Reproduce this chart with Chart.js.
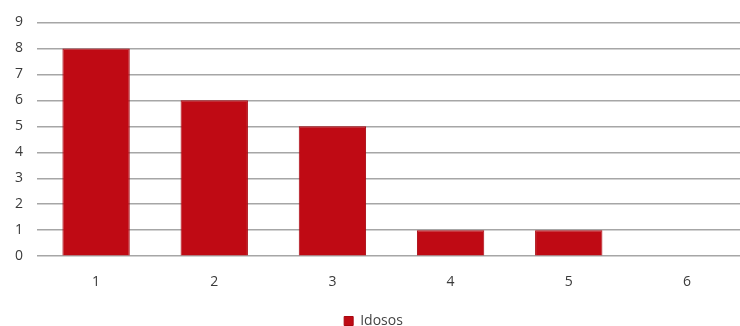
<!DOCTYPE html>
<html>
<head>
<meta charset="utf-8">
<script src="https://cdn.jsdelivr.net/npm/chart.js@4/dist/chart.umd.min.js"></script>
<style>
  html, body { margin: 0; padding: 0; background: #fff; overflow: hidden; }
  .wrap { width: 746px; height: 326px; overflow: hidden; }
</style>
</head>
<body>
<div class="wrap"><canvas id="myChart" width="746" height="338"></canvas></div>
<script>
let categories = ['1', '2', '3', '4', '5', '6'];
let idosos = [8, 6, 5, 1, 1, 0];
let yTicks = [0, 1, 2, 3, 4, 5, 6, 7, 8, 9];

let ctx = document.getElementById('myChart').getContext('2d');

new Chart(ctx, {
  type: 'bar',
  data: {
    labels: categories,
    datasets: [{
      label: 'Idosos',
      data: idosos,
      backgroundColor: '#bf0a14',
      borderColor: '#a8060f',
      borderWidth: 1,
      categoryPercentage: 1,
      barPercentage: 0.57
    }]
  },
  options: {
    responsive: false,
    animation: false,
    layout: { padding: { top: 18, left: 1, right: 0, bottom: 0 } },
    plugins: {
      legend: {
        position: 'bottom',
        labels: {
          boxWidth: 9, boxHeight: 9, padding: 0,
          color: '#444', font: { family: 'Open Sans', size: 14 }
        }
      },
      tooltip: { enabled: false }
    },
    scales: {
      x: {
        afterFit: axis => { axis.height += 7; },
        grid: { display: false, drawTicks: false },
        border: { display: false },
        ticks: { color: '#3a3a3a', padding: 17, font: { family: 'Open Sans', size: 14 } }
      },
      y: {
        min: 0, max: 9,
        afterBuildTicks: axis => { axis.ticks = yTicks.map(v => ({ value: v })); },
        grid: { color: '#a6a6a6', lineWidth: 1.5, drawTicks: false },
        border: { display: false },
        ticks: { color: '#3a3a3a', padding: 14, font: { family: 'Open Sans', size: 14 } }
      }
    }
  }
});
</script>
</body>
</html>
